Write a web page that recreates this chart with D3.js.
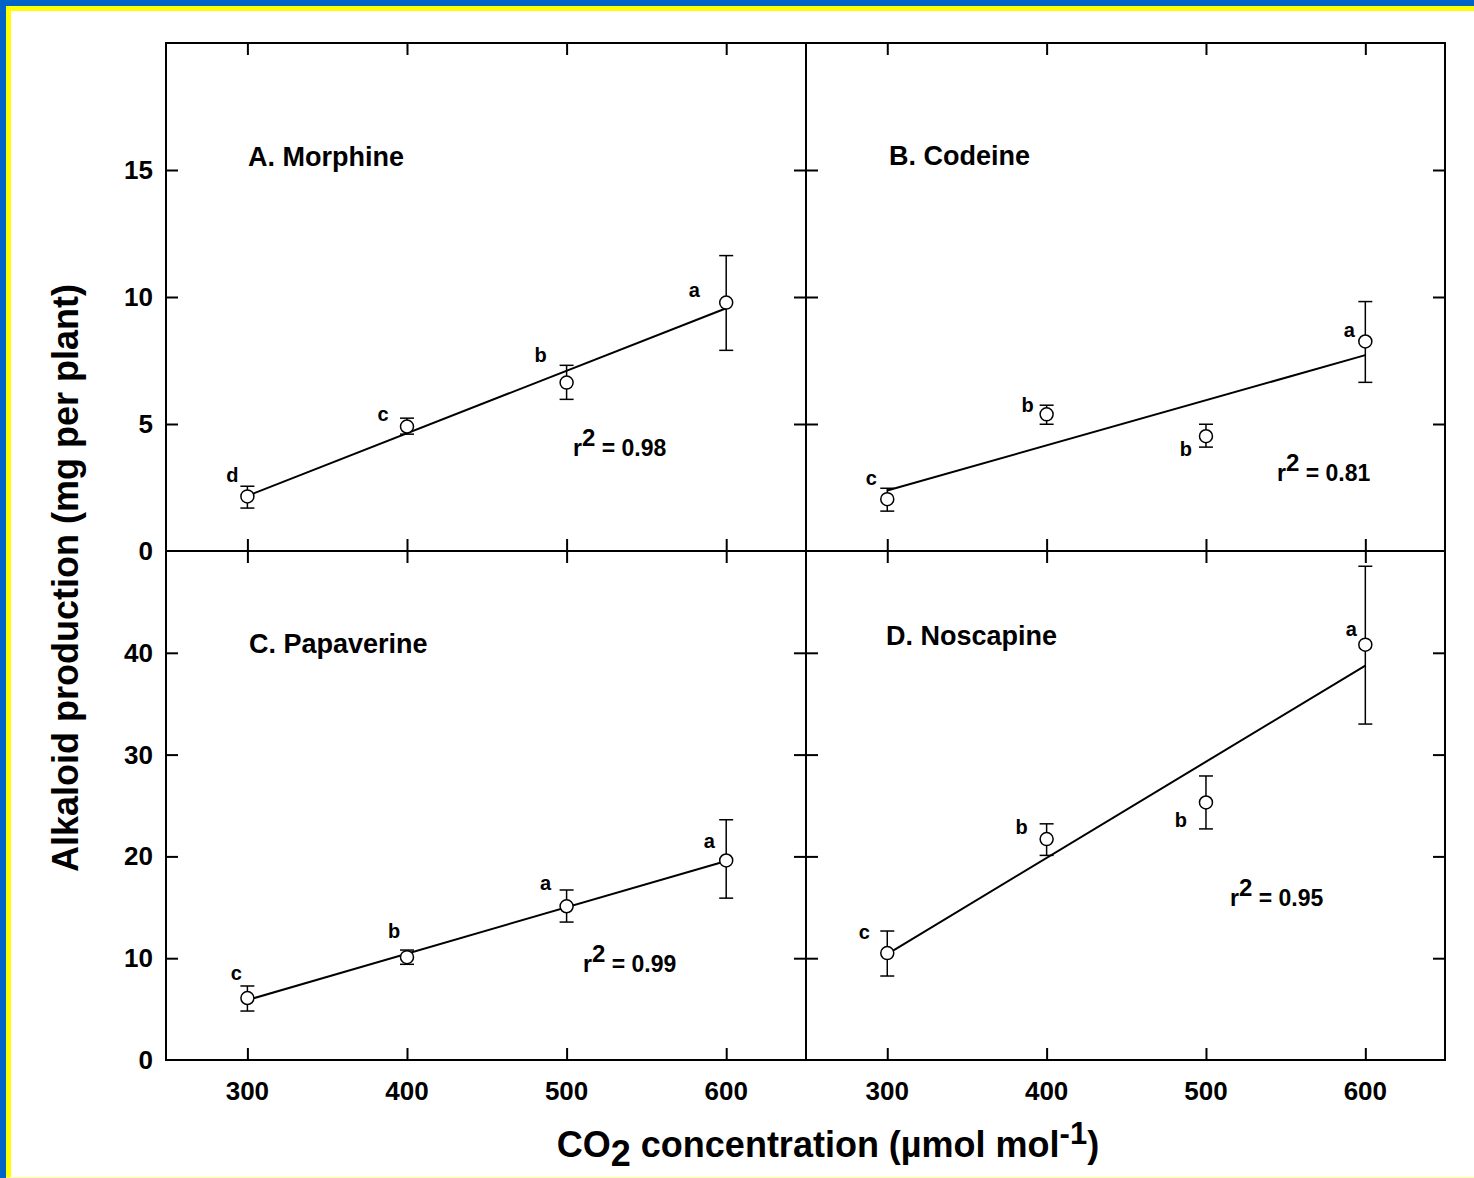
<!DOCTYPE html>
<html lang="en">
<head>
<meta charset="utf-8">
<script src="https://cdn.jsdelivr.net/npm/d3@7"></script>
<style type="text/css">
body { margin: 0; background: #fff; }
text { font-family: "Liberation Sans", Arial, sans-serif; font-weight: bold; fill: #000; }
</style>
</head>
<body>
<script type="text/javascript">

// CO2 levels (x)
var co2 = [300, 400, 500, 600];

// alkaloid means, error bar low / high, significance letters
var morphine     = [2.15, 4.9, 6.63, 9.78];
var morphineLo   = [1.69, 4.6, 5.97, 7.9];
var morphineHi   = [2.55, 5.23, 7.31, 11.63];
var morphineSig  = ["d", "c", "b", "a"];

var codeine      = [2.04, 5.38, 4.52, 8.25];
var codeineLo    = [1.57, 4.99, 4.09, 6.64];
var codeineHi    = [2.47, 5.74, 4.99, 9.82];
var codeineSig   = ["c", "b", "b", "a"];

var papaverine    = [6.09, 10.1, 15.1, 19.6];
var papaverineLo  = [4.81, 9.4, 13.55, 15.9];
var papaverineHi  = [7.27, 10.8, 16.7, 23.6];
var papaverineSig = ["c", "b", "a", "a"];

var noscapine    = [10.5, 21.7, 25.3, 40.8];
var noscapineLo  = [8.25, 20.1, 22.7, 33.0];
var noscapineHi  = [12.67, 23.2, 27.9, 48.5];
var noscapineSig = ["c", "b", "b", "a"];

var panelNames = ["A. Morphine", "B. Codeine", "C. Papaverine", "D. Noscapine"];
var r2Values   = ["0.98", "0.81", "0.99", "0.95"];

var topTicks    = [0, 5, 10, 15];
var bottomTicks = [0, 10, 20, 30, 40];

(function() {

var width = 1474, height = 1178;

// pixel offsets of the letters from their point (layout only)
var sigOffset = [
	[[-15, -20], [-24, -12], [-26, -27], [-32, -12]],
	[[-16, -20], [-19, -8], [-20, 14], [-16, -10]],
	[[-11, -24], [-13, -25], [-21, -22], [-17, -18]],
	[[-23, -20], [-25, -11], [-25, 19], [-14, -15]]
];

var svg = d3.select("body").append("svg")
	.attr("width", width)
	.attr("height", height);

svg.append("rect").attr("width", width).attr("height", height).attr("fill", "#fff");

// blue / yellow frame on top and left side
svg.append("rect").attr("x", 0).attr("y", 0).attr("width", width).attr("height", 6).attr("fill", "#0063c6");
svg.append("rect").attr("x", 0).attr("y", 0).attr("width", 6).attr("height", height).attr("fill", "#0063c6");
svg.append("rect").attr("x", 6).attr("y", 6).attr("width", width - 6).attr("height", 5).attr("fill", "#ffff00");
svg.append("rect").attr("x", 6).attr("y", 6).attr("width", 5).attr("height", height - 6).attr("fill", "#ffff00");
svg.append("rect").attr("x", 6).attr("y", height - 1).attr("width", width - 6).attr("height", 1).attr("fill", "#ffff99");

var pl = 166, pm = 806, pr = 1445;
var pt = 43, pvm = 551, pb = 1060;

var panels = [
	{ x0: pl, x1: pm, y0: pt,  y1: pvm, ymax: 20, ticks: topTicks,    m: morphine,   lo: morphineLo,   hi: morphineHi,   sig: morphineSig,   r2pos: [573, 447], titlePos: [248, 166] },
	{ x0: pm, x1: pr, y0: pt,  y1: pvm, ymax: 20, ticks: topTicks,    m: codeine,    lo: codeineLo,    hi: codeineHi,    sig: codeineSig,    r2pos: [1277, 472], titlePos: [889, 165] },
	{ x0: pl, x1: pm, y0: pvm, y1: pb,  ymax: 50, ticks: bottomTicks, m: papaverine, lo: papaverineLo, hi: papaverineHi, sig: papaverineSig, r2pos: [583, 963], titlePos: [249, 653] },
	{ x0: pm, x1: pr, y0: pvm, y1: pb,  ymax: 50, ticks: bottomTicks, m: noscapine,  lo: noscapineLo,  hi: noscapineHi,  sig: noscapineSig,  r2pos: [1230, 897], titlePos: [886, 645] }
];

var tickLen = 12;

panels.forEach(function(p, i) {
	var x = d3.scaleLinear().domain([249, 650]).range([p.x0, p.x1]);
	var y = d3.scaleLinear().domain([0, p.ymax]).range([p.y1, p.y0]);
	var g = svg.append("g");

	// inward ticks on all four sides
	var yt = p.ticks.filter(function(t) { return t > 0; });
	g.append("g").attr("transform", "translate(" + p.x0 + ",0)")
		.call(d3.axisRight(y).tickValues(yt).tickSize(tickLen).tickFormat(""));
	g.append("g").attr("transform", "translate(" + p.x1 + ",0)")
		.call(d3.axisLeft(y).tickValues(yt).tickSize(tickLen).tickFormat(""));
	g.append("g").attr("transform", "translate(0," + p.y1 + ")")
		.call(d3.axisTop(x).tickValues(co2).tickSize(tickLen).tickFormat(""));
	g.append("g").attr("transform", "translate(0," + p.y0 + ")")
		.call(d3.axisBottom(x).tickValues(co2).tickSize(tickLen).tickFormat(""));
	g.selectAll(".domain").remove();
	g.selectAll(".tick line").attr("stroke", "#000").attr("stroke-width", 2);

	// frame
	g.append("rect").attr("x", p.x0).attr("y", p.y0)
		.attr("width", p.x1 - p.x0).attr("height", p.y1 - p.y0)
		.attr("fill", "none").attr("stroke", "#000").attr("stroke-width", 2);

	// tick labels on left column / bottom row
	if (i % 2 === 0) {
		p.ticks.forEach(function(t) {
			svg.append("text").attr("x", 153).attr("y", y(t) + 9)
				.attr("text-anchor", "end").style("font-size", "26px").text(t);
		});
	}
	if (i >= 2) {
		co2.forEach(function(c) {
			svg.append("text").attr("x", x(c)).attr("y", 1100)
				.attr("text-anchor", "middle").style("font-size", "26px").text(c);
		});
	}

	// regression line (least squares on the means)
	var mx = d3.mean(co2), my = d3.mean(p.m);
	var sxy = d3.sum(co2, function(c, k) { return (c - mx) * (p.m[k] - my); });
	var sxx = d3.sum(co2, function(c) { return (c - mx) * (c - mx); });
	var slope = sxy / sxx;
	var fit = function(c) { return my + slope * (c - mx); };
	g.append("line")
		.attr("x1", x(300)).attr("y1", y(fit(300)))
		.attr("x2", x(600)).attr("y2", y(fit(600)))
		.attr("stroke", "#000").attr("stroke-width", 2);

	// error bars
	co2.forEach(function(c, k) {
		g.append("line").attr("x1", x(c)).attr("x2", x(c))
			.attr("y1", y(p.lo[k])).attr("y2", y(p.hi[k]))
			.attr("stroke", "#000").attr("stroke-width", 1.5);
		[p.lo[k], p.hi[k]].forEach(function(v) {
			g.append("line").attr("x1", x(c) - 7).attr("x2", x(c) + 7)
				.attr("y1", y(v)).attr("y2", y(v))
				.attr("stroke", "#000").attr("stroke-width", 1.5);
		});
	});

	// points
	g.selectAll("circle").data(p.m).enter().append("circle")
		.attr("cx", function(d, k) { return x(co2[k]); })
		.attr("cy", function(d) { return y(d); })
		.attr("r", 6.5)
		.attr("fill", "#fff").attr("stroke", "#000").attr("stroke-width", 1.5);

	// significance letters
	co2.forEach(function(c, k) {
		g.append("text")
			.attr("x", x(c) + sigOffset[i][k][0])
			.attr("y", y(p.m[k]) + sigOffset[i][k][1] + 6)
			.attr("text-anchor", "middle")
			.style("font-size", "20px")
			.text(p.sig[k]);
	});

	// panel title
	g.append("text").attr("x", p.titlePos[0]).attr("y", p.titlePos[1])
		.style("font-size", "27px").text(panelNames[i]);

	// r squared
	var r2 = g.append("text").attr("x", p.r2pos[0]).attr("y", p.r2pos[1] + 9)
		.style("font-size", "23px");
	r2.append("tspan").text("r");
	r2.append("tspan").attr("dy", -10).style("font-size", "24px").text("2");
	r2.append("tspan").attr("dy", 10).text(" = " + r2Values[i]);
});

// axis titles
svg.append("text")
	.attr("transform", "translate(78,578) rotate(-90)")
	.attr("text-anchor", "middle")
	.style("font-size", "36px")
	.text("Alkaloid production (mg per plant)");

var xt = svg.append("text")
	.attr("x", 828).attr("y", 1157)
	.attr("text-anchor", "middle")
	.style("font-size", "36px");
xt.append("tspan").text("CO");
xt.append("tspan").attr("dy", 9).text("2");
xt.append("tspan").attr("dy", -9).text(" concentration (\u00b5mol mol");
xt.append("tspan").attr("dy", -13).style("font-size", "31px").text("-1");
xt.append("tspan").attr("dy", 13).text(")");

})();

</script>
</body>
</html>
